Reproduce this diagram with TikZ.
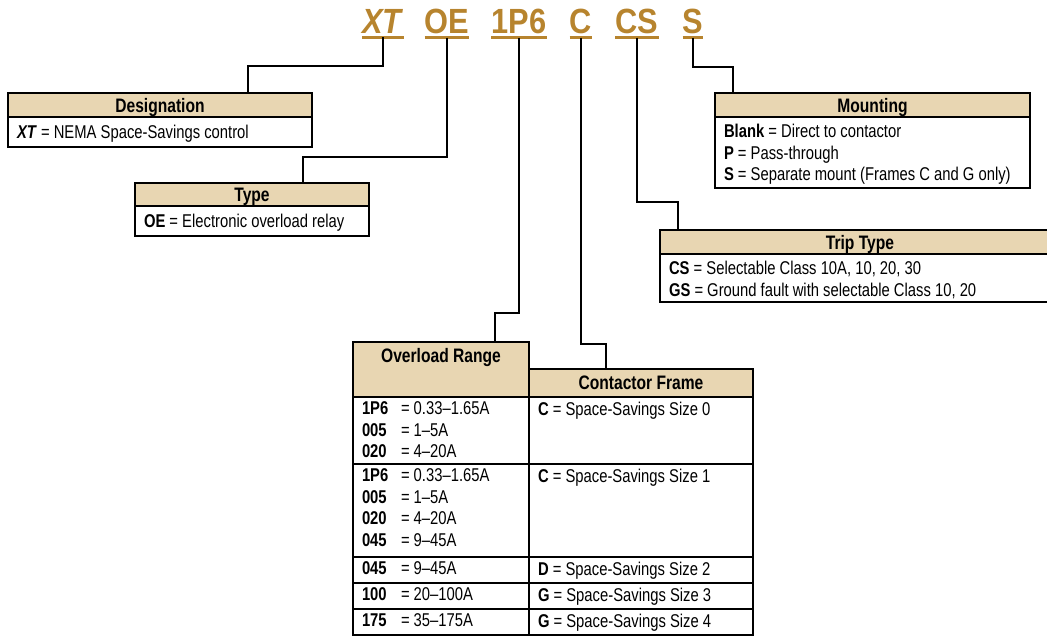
\documentclass[tikz,border=0pt]{standalone}
\usepackage{fontspec}
\setmainfont{Liberation Sans}[FakeStretch=0.80]
\newfontfamily\codefont{Liberation Sans}[FakeStretch=0.88]
\usepackage{tikz}
\usetikzlibrary{positioning}
\definecolor{codegold}{RGB}{183,132,46}
\definecolor{headtan}{RGB}{232,214,178}
\tikzstyle{code} = [text=codegold, font=\codefont\bfseries\fontsize{35}{40}\selectfont, inner xsep=0pt, inner ysep=4pt, anchor=base]
\tikzstyle{codeline} = [draw=codegold, line width=2.8pt]
\tikzstyle{link} = [draw, line width=2pt]
\tikzstyle{hdr} = [rectangle, draw, line width=1.2pt, fill=headtan, anchor=north west, inner sep=0pt, outer sep=0pt, text height=16pt, text depth=2pt, font=\bfseries\fontsize{19.5}{22}\selectfont]
\tikzstyle{cell} = [rectangle, draw, line width=1.2pt, anchor=north west, inner xsep=9pt, inner ysep=2pt, outer sep=0pt, font=\fontsize{18.5}{21.5}\selectfont]
\newcommand{\cellbox}[3]{\parbox[c][#2][t]{#1}{\vspace{3pt}#3}}
\newcommand{\midbox}[3]{\parbox[c][#2][c]{#1}{\vspace{4pt}#3}}
\newcommand{\rng}[2]{\makebox[39pt][l]{\textbf{#1}}= #2}

\begin{document}
\begin{tikzpicture}[x=1pt, y=-1pt]
  \useasboundingbox (0,0) rectangle (1047,637);
  \clip (0,0) rectangle (1047,637);

  % Catalog number
  \node (xt) [code] at (383,33) {\textit{XT}};
  \node (oe) [code] at (447,33) {OE};
  \node (p16) [code] at (519,33) {1P6};
  \node (cc) [code] at (581,33) {C};
  \node (cs) [code] at (637,33) {CS};
  \node (ss) [code] at (693,33) {S};
  \foreach \c in {xt,oe,p16,cc,cs,ss}
    \draw [codeline] (\c.south west) -- (\c.south east);

  % Designation and type
  \node (desig) [hdr, minimum width=304pt, minimum height=24pt] at (8,93) {Designation};
  \node (desigtxt) [cell] at (desig.south west)
    {\midbox{286pt}{26pt}{\textbf{\textit{XT}} = NEMA Space-Savings control}};
  \node (type) [hdr, minimum width=234pt, minimum height=23pt] at (135,183) {Type};
  \node (typetxt) [cell] at (type.south west)
    {\midbox{216pt}{26pt}{\textbf{OE} = Electronic overload relay}};

  % Mounting and trip type
  \node (mount) [hdr, minimum width=315pt, minimum height=24pt] at (715,93) {Mounting};
  \node (mounttxt) [cell] at (mount.south west)
    {\midbox{297pt}{67pt}{\textbf{Blank} = Direct to contactor\\
     \textbf{P} = Pass-through\\
     \textbf{S} = Separate mount (Frames C and G only)}};
  \node (trip) [hdr, minimum width=400pt, minimum height=24pt] at (660,230) {Trip Type};
  \node (triptxt) [cell] at (trip.south west)
    {\midbox{382pt}{44pt}{\textbf{CS} = Selectable Class 10A, 10, 20, 30\\
     \textbf{GS} = Ground fault with selectable Class 10, 20}};

  % Overload range and contactor frame
  \node (ovl) [hdr, minimum width=176pt, minimum height=55pt, text height=20pt, text depth=35pt] at (353,342) {Overload Range};
  \node (frame) [hdr, minimum width=224pt, minimum height=28pt, text height=15pt] at (529,369) {Contactor Frame};
  \node (ra1) [cell] at (ovl.south west)
    {\cellbox{158pt}{63pt}{\rng{1P6}{0.33--1.65A}\\ \rng{005}{1--5A}\\ \rng{020}{4--20A}}};
  \node (rb1) [cell] at (ra1.north east)
    {\cellbox{206pt}{63pt}{\textbf{C} = Space-Savings Size 0}};
  \node (ra2) [cell] at (ra1.south west)
    {\cellbox{158pt}{89pt}{\rng{1P6}{0.33--1.65A}\\ \rng{005}{1--5A}\\ \rng{020}{4--20A}\\ \rng{045}{9--45A}}};
  \node (rb2) [cell] at (ra2.north east)
    {\cellbox{206pt}{89pt}{\textbf{C} = Space-Savings Size 1}};
  \node (ra3) [cell] at (ra2.south west) {\cellbox{158pt}{22pt}{\rng{045}{9--45A}}};
  \node (rb3) [cell] at (ra3.north east) {\cellbox{206pt}{22pt}{\textbf{D} = Space-Savings Size 2}};
  \node (ra4) [cell] at (ra3.south west) {\cellbox{158pt}{22pt}{\rng{100}{20--100A}}};
  \node (rb4) [cell] at (ra4.north east) {\cellbox{206pt}{22pt}{\textbf{G} = Space-Savings Size 3}};
  \node (ra5) [cell] at (ra4.south west) {\cellbox{158pt}{22pt}{\rng{175}{35--175A}}};
  \node (rb5) [cell] at (ra5.north east) {\cellbox{206pt}{22pt}{\textbf{G} = Space-Savings Size 4}};

  % Leader lines
  \coordinate (xtbend) at (248,66);
  \coordinate (oebend) at (303,157);
  \coordinate (p16bend) at (495,313);
  \coordinate (ccbend) at (606,344);
  \coordinate (csbend) at (678,202);
  \coordinate (ssbend) at (733,67);
  \draw [link] (xt.south) |- (xtbend) -- (xtbend |- desig.north);
  \draw [link] (oe.south) |- (oebend) -- (oebend |- type.north);
  \draw [link] (p16.south) |- (p16bend) -- (p16bend |- ovl.north);
  \draw [link] (cc.south) |- (ccbend) -- (ccbend |- frame.north);
  \draw [link] (cs.south) |- (csbend) -- (csbend |- trip.north);
  \draw [link] (ss.south) |- (ssbend) -- (ssbend |- mount.north);

\end{tikzpicture}
\end{document}
